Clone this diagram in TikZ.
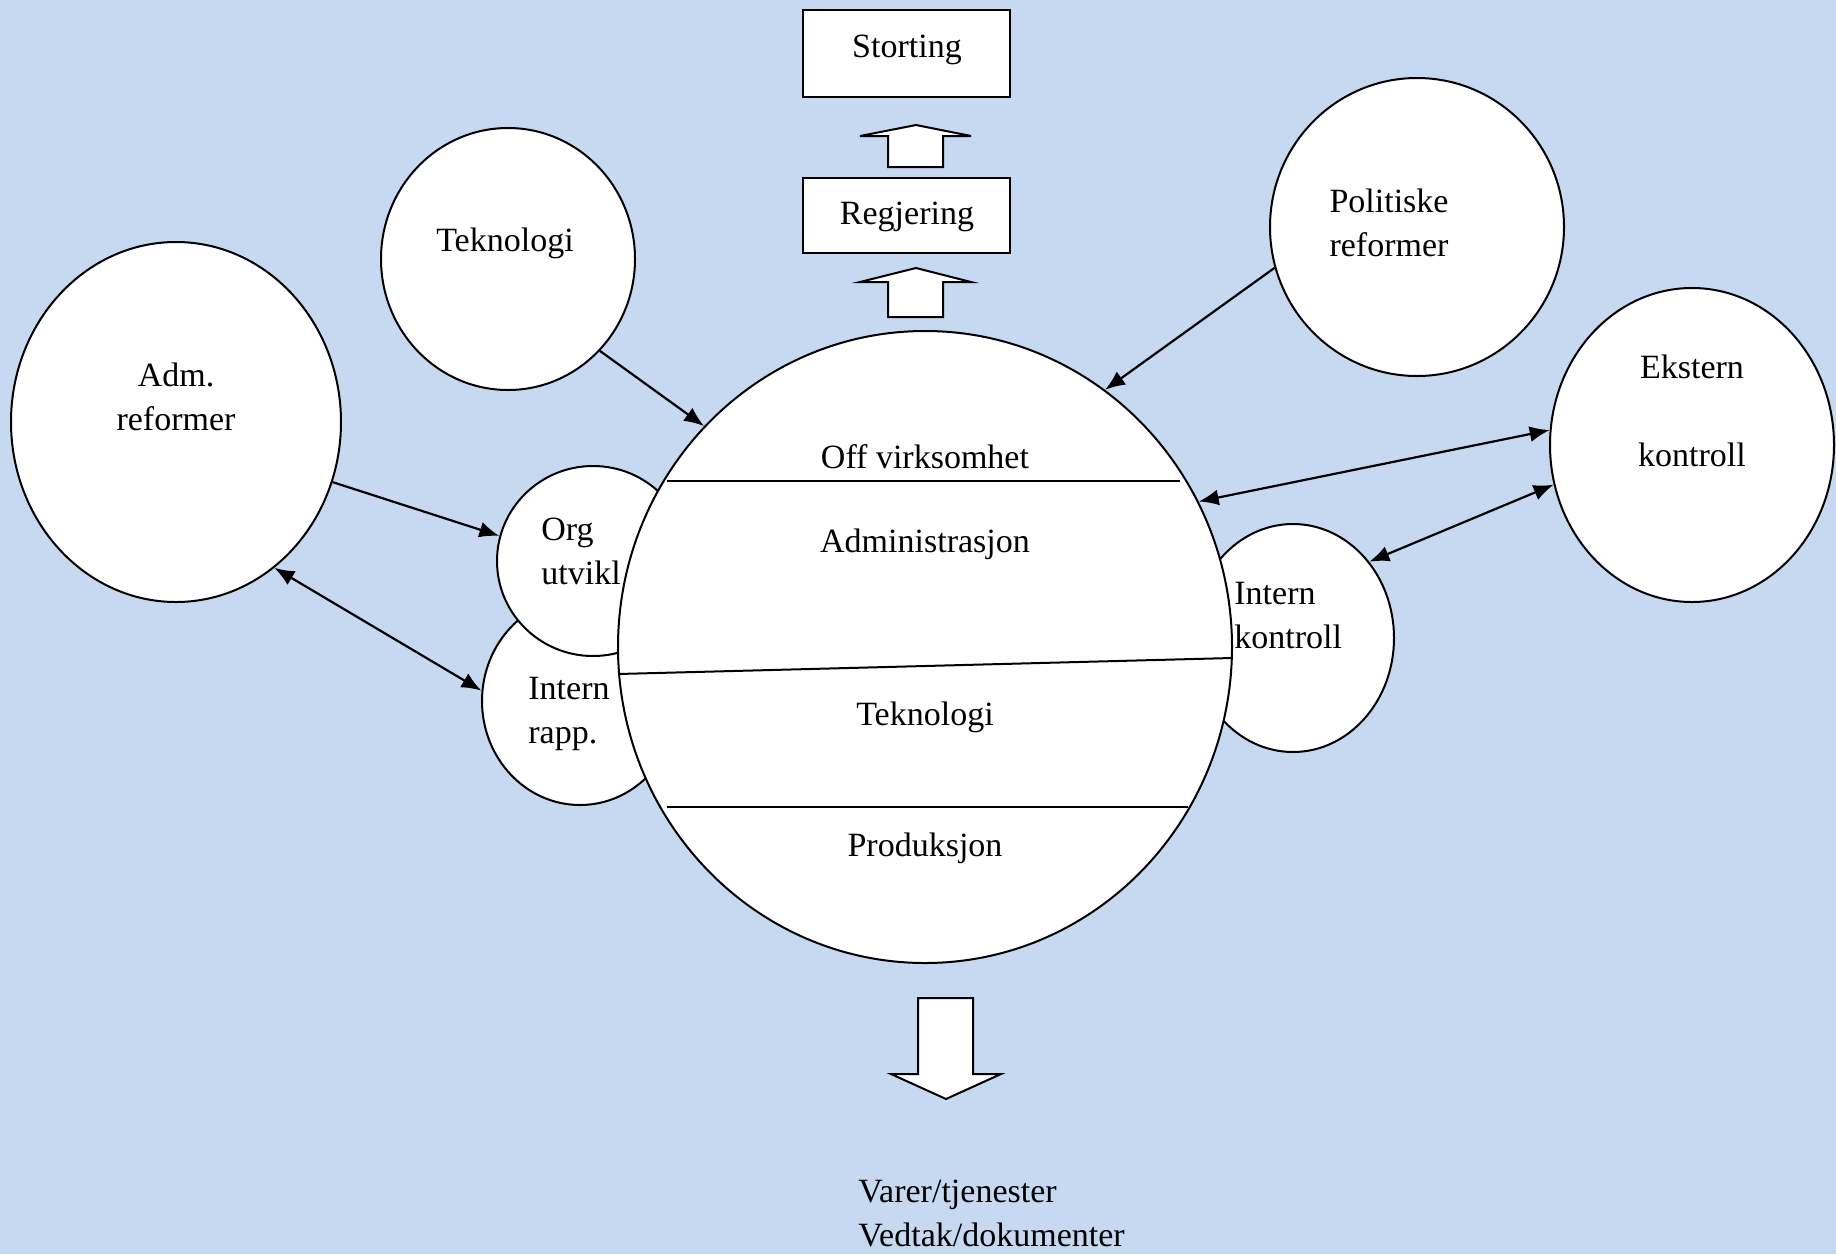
\documentclass[tikz,border=0pt]{standalone}
\usepackage{fontspec}
\setmainfont{Liberation Serif}
\usetikzlibrary{shapes.geometric,arrows.meta}
\definecolor{bg}{RGB}{198,217,241}
\begin{document}
\begin{tikzpicture}[x=0.5pt,y=-0.5pt,
  oval/.style={ellipse,draw,fill=white,line width=1pt,inner sep=0pt},
  box/.style={rectangle,draw,fill=white,line width=1pt,inner sep=0pt},
  txt/.style={font=\fontsize{17}{22}\selectfont,inner sep=0pt,yshift=-1.5pt},
  conn/.style={line width=1.1pt,-{Latex[length=10pt,width=8pt]}},
  conntwo/.style={line width=1.1pt,{Latex[length=10pt,width=8pt]}-{Latex[length=10pt,width=8pt]}},
  blockarrow/.style={draw,fill=white,line width=1pt,line join=miter},
  divider/.style={line width=1pt}]
\fill[bg] (0,0) rectangle (1836,1254);
\useasboundingbox (0,0) rectangle (1836,1254);

% circles
\node[oval,minimum width=127pt,minimum height=131pt] (tek) at (508,259) {};
\node[oval,minimum width=165pt,minimum height=180pt] (adm) at (176,422) {};
\node[oval,minimum width=147pt,minimum height=149pt] (pol) at (1417,227) {};
\node[oval,minimum width=142pt,minimum height=157pt] (eks) at (1692,445) {};
\node[oval,minimum width=101pt,minimum height=114pt] (ik) at (1293,638) {};
\node[oval,minimum width=98pt,minimum height=104pt] (ir) at (580,701) {};
\node[oval,minimum width=96pt,minimum height=95pt] (org) at (593,561) {};
\node[oval,minimum width=307pt,minimum height=316pt] (big) at (925,647) {};

% boxes
\node[box,minimum width=103.5pt,minimum height=43.5pt] (sto) at (906.5,53.5) {};
\node[box,minimum width=103.5pt,minimum height=37.5pt] (reg) at (906.5,215.5) {};

% block arrows
\draw[blockarrow] (888,167) -- (888,136) -- (860,136) -- (916,125) -- (971,136) -- (943,136) -- (943,167) -- cycle;
\draw[blockarrow] (888,317) -- (888,282) -- (860,282) -- (916,268) -- (971,282) -- (943,282) -- (943,317) -- cycle;
\draw[blockarrow] (918,998) -- (973,998) -- (973,1074) -- (1001,1074) -- (946,1099) -- (891,1074) -- (918,1074) -- cycle;

% dividers in big circle
\draw[divider] (667,481) -- (1180,481);
\draw[divider] (618,674) -- (1232,658);
\draw[divider] (667,807) -- (1188,807);

% texts
\node[txt] (tsto) at (907,47) {Storting};
\node[txt] (treg) at (907,214) {Regjering};
\node[txt] (ttek) at (505,240) {Teknologi};
\node[txt,align=center] (tadm) at (176,394) {Adm.\\reformer};
\node[txt,align=center] (tpol) at (1389,220) {Politiske\\reformer};
\node[txt,align=center] (teks) at (1692,408) {Ekstern\\\mbox{}\\kontroll};
\node[txt,align=left,anchor=west] (torg) at (541,548) {Org\\utvikl};
\node[txt,align=left,anchor=west] (tir) at (528,711) {Intern\\rapp.};
\node[txt,align=left,anchor=west] (tik) at (1234,613) {Intern\\kontroll};
\node[txt] (toff) at (925,454) {Off virksomhet};
\node[txt] (tadmi) at (925,541) {Administrasjon};
\node[txt] (ttek2) at (925,714) {Teknologi};
\node[txt] (tprod) at (925,845) {Produksjon};
\node[txt,align=left,anchor=west] (tout) at (858,1210) {Varer/tjenester\\Vedtak/dokumenter};

% connectors
\draw[conn] (tek.-45) -- (big.135);
\draw[conn] (pol.196) -- (big.55);
\draw[conntwo] (eks.174) -- (big.28);
\draw[conntwo] (eks.196) -- (ik.45);
\draw[conn] (adm.-21) -- (org.165);
\draw[conntwo] (adm.-56) -- (ir.174);
\end{tikzpicture}
\end{document}
